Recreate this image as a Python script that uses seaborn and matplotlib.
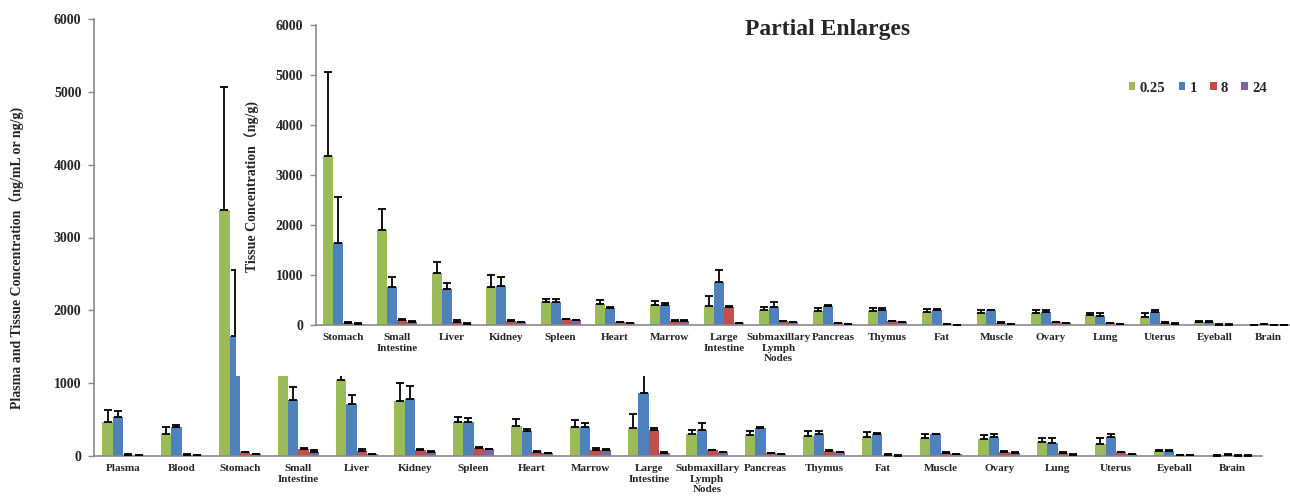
import numpy as np
import pandas as pd
import matplotlib
matplotlib.use("Agg")
import matplotlib.pyplot as plt
from matplotlib.patches import Rectangle, Patch
import seaborn as sns

# ---- data -----------------------------------------------------------------
tissues = ["Plasma", "Blood", "Stomach", "Small\nIntestine", "Liver", "Kidney",
           "Spleen", "Heart", "Marrow", "Large\nIntestine",
           "Submaxillary\nLymph\nNodes", "Pancreas", "Thymus", "Fat", "Muscle",
           "Ovary", "Lung", "Uterus", "Eyeball", "Brain"]
time_points = ["0.25", "1", "8", "24"]

mean_025 = [461, 306, 3380, 1900, 1040, 753, 470, 411, 402, 384,
            306, 288, 279, 265, 247, 237, 192, 169, 64, 5]
sd_025 = [169, 87, 1690, 420, 220, 247, 60, 91, 87, 196,
          50, 59, 59, 64, 50, 55, 50, 73, 14, 4]

mean_1 = [530, 393, 1650, 767, 717, 785, 470, 342, 402, 863,
          361, 379, 306, 301, 297, 260, 183, 265, 64, 14]
sd_1 = [86, 27, 910, 187, 119, 178, 46, 28, 45, 245,
        91, 18, 41, 10, 4, 37, 59, 36, 14, 9]

mean_8 = [18, 14, 50, 91, 68, 82, 114, 55, 78, 352,
          78, 37, 73, 14, 46, 59, 41, 50, 9, 5]
sd_8 = [9, 9, 9, 23, 28, 14, 9, 9, 32, 27,
        9, 9, 9, 9, 9, 9, 9, 9, 5, 3]

mean_24 = [9, 9, 27, 59, 23, 59, 96, 37, 78, 41,
           55, 23, 55, 5, 23, 41, 18, 27, 9, 5]
sd_24 = [3, 3, 5, 19, 9, 9, 4, 4, 22, 9,
         4, 4, 4, 2, 4, 9, 4, 5, 2, 2]

colors = ["#9BBB59", "#4F81BD", "#C0504D", "#8064A2"]

means = dict(zip(time_points, [mean_025, mean_1, mean_8, mean_24]))
sds = dict(zip(time_points, [sd_025, sd_1, sd_8, sd_24]))

rows = []
for tp in time_points:
    for t, m, e in zip(tissues, means[tp], sds[tp]):
        rows.append({"Tissue": t, "Time": tp, "Conc": m, "SD": e})
df = pd.DataFrame(rows)
df_tissue = df[~df["Tissue"].isin(["Plasma", "Blood"])]

# ---- style ----------------------------------------------------------------
sns.set_style("ticks")
plt.rcParams["font.family"] = ["Liberation Serif", "Noto Sans CJK SC"]
plt.rcParams["font.weight"] = "bold"
plt.rcParams["axes.labelweight"] = "bold"

W, H = 1290, 497
fig = plt.figure(figsize=(W / 100, H / 100), dpi=100)


def px_box(left, top, right, bottom):
    return [left / W, 1 - bottom / H, (right - left) / W, (bottom - top) / H]


ax_main = fig.add_axes(px_box(94, 19, 1262, 456), zorder=0)
ax_in = fig.add_axes(px_box(315.5, 25, 1296, 325), zorder=2)
# white backing behind the enlarged panel
fig.add_artist(Rectangle((236 / W, 1 - 375.5 / H), 1, 1,
                         transform=fig.transFigure, facecolor="white",
                         edgecolor="none", zorder=1))


def draw_panel(ax, data, width):
    order = list(dict.fromkeys(data["Tissue"]))
    sns.barplot(data=data, x="Tissue", y="Conc", hue="Time",
                hue_order=time_points, order=order, palette=colors,
                width=width, errorbar=None, saturation=1, legend=False,
                linewidth=0, ax=ax)
    sd_lookup = data.set_index(["Time", "Tissue"])["SD"]
    xs, hs, es = [], [], []
    for tp, cont in zip(time_points, ax.containers):
        for bar in cont:
            xc = bar.get_x() + bar.get_width() / 2
            tissue = order[int(round(xc))]
            xs.append(xc)
            hs.append(bar.get_height())
            es.append(sd_lookup[(tp, tissue)])
    xs, hs, es = map(np.asarray, (xs, hs, es))
    ax.errorbar(xs, hs, yerr=[np.zeros_like(es), es], fmt="none",
                ecolor="black", elinewidth=1.3, capsize=3.2, capthick=1.3,
                zorder=3)

    ax.set_xlim(-0.5, len(order) - 0.5)
    ax.set_ylim(0, 6000)
    ax.set_yticks(range(0, 6001, 1000))
    ax.spines[["top", "right"]].set_visible(False)
    for s in ("left", "bottom"):
        ax.spines[s].set_color("#8a8a8a")
        ax.spines[s].set_linewidth(1.2)
    ax.tick_params(axis="y", length=4, width=1, color="#8a8a8a",
                   labelsize=10, pad=5)
    ax.tick_params(axis="x", length=0, labelsize=8, pad=6)
    ax.set_xlabel("")
    for lbl in ax.get_xticklabels() + ax.get_yticklabels():
        lbl.set_fontweight("bold")


draw_panel(ax_main, df, 0.71)
draw_panel(ax_in, df_tissue, 0.73)

ax_main.set_ylabel("Plasma and Tissue Concentration（ng/mL or ng/g)",
                   fontsize=10, fontweight="bold")
ax_main.yaxis.set_label_coords((25 - 94) / 1168, (456 - 258) / 437)
ax_in.set_ylabel("Tissue Concentration（ng/g)", fontsize=10, fontweight="bold")
ax_in.yaxis.set_label_coords((260 - 315.5) / 980.5, (325 - 186) / 300)

fig.text(828 / W, 1 - 30 / H, "Partial Enlarges", ha="center", va="center",
         fontsize=17, fontweight="bold")

handles = [Patch(facecolor=c, edgecolor="none") for c in colors]
fig.legend(handles, time_points, loc="center",
           bbox_to_anchor=(1198 / W, 1 - 88 / H), ncol=4, frameon=False,
           handlelength=0.45, handleheight=0.45, handletextpad=0.3,
           columnspacing=0.9, prop={"size": 10.5, "weight": "bold"})

fig.savefig("out.png", dpi=100)
